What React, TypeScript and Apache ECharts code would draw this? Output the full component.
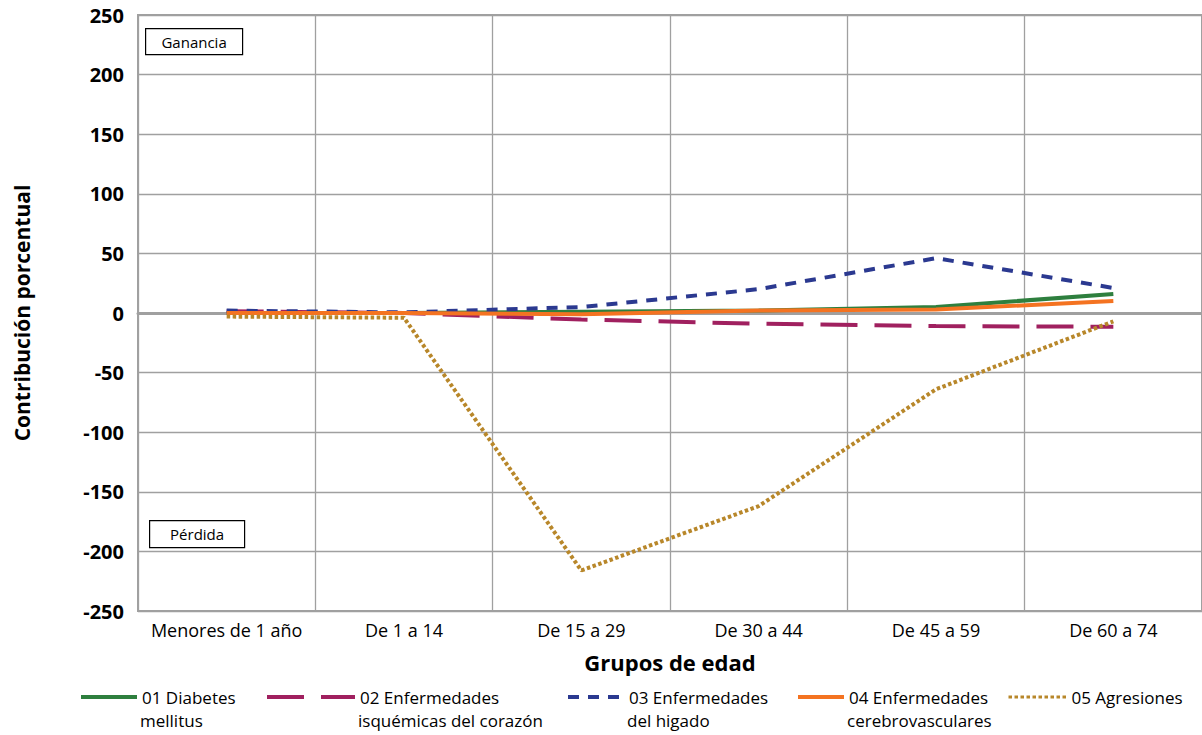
import React, { useEffect, useRef } from "react";
import * as echarts from "echarts";

const categories = ["Menores de 1 año", "De 1 a 14", "De 15 a 29", "De 30 a 44", "De 45 a 59", "De 60 a 74"];
const seriesNames = [
  "01 Diabetes\nmellitus",
  "02 Enfermedades\nisquémicas del corazón",
  "03 Enfermedades\ndel higado",
  "04 Enfermedades\ncerebrovasculares",
  "05 Agresiones",
];
const diabetes = [0, 0, 1, 2, 5, 16];
const isquemicas = [1.5, 0, -5.5, -9, -11, -11.5];
const higado = [2, 0.5, 5, 20, 46, 21];
const cerebro = [0, 0, -1, 2, 3, 10];
const agresiones = [-3, -4, -216, -162, -64, -7];
const yMin = -250;
const yMax = 250;
const yStep = 50;

const FONT = "'Open Sans', sans-serif";
const GRID = "#a0a0a0";

export default function App() {
  const ref = useRef<HTMLDivElement>(null);
  useEffect(() => {
    document.body.style.margin = "0";
    const chart = echarts.init(ref.current!, null, { renderer: "svg" });
    const styles = [
      { color: "#2E7F3E", width: 4, type: "solid" as any },
      { color: "#A0205F", width: 4, type: [37, 17] as any },
      { color: "#2B3990", width: 4, type: [11, 9] as any },
      { color: "#F47321", width: 4, type: "solid" as any },
      { color: "#B8872A", width: 4, type: [3.5, 2.5] as any },
    ];
    const datas = [diabetes, isquemicas, higado, cerebro, agresiones];
    const legendPos = [
      { left: 79, w: 56 },
      { left: 265, w: 88 },
      { left: 566, w: 56 },
      { left: 796, w: 46 },
      { left: 1007, w: 58 },
    ];
    const legendRowY = 697;
    const legendRow2Y = 720;
    const legends = seriesNames.map((n, i) => ({
      data: [n],
      left: legendPos[i].left,
      top: legendRowY - 11.5,
      padding: 0,
      itemWidth: legendPos[i].w,
      itemHeight: 10,
      selectedMode: false,
      formatter: (name: string) => name.split("\n")[0],
      itemStyle: { opacity: 0 },
      lineStyle: { width: i === 4 ? 3 : styles[i].width },
      textStyle: { fontFamily: FONT, fontSize: 17, color: "#000", lineHeight: 23 },
    }));
    const secondLines = seriesNames
      .map((n, i) => ({ n, i }))
      .filter((o) => o.n.includes("\n"))
      .map((o) => ({
        type: "text",
        x: legendPos[o.i].left + legendPos[o.i].w + 5,
        y: legendRow2Y,
        style: {
          text: o.n.split("\n")[1],
          fontSize: 17,
          fontFamily: FONT,
          fill: "#000",
          align: "left",
          verticalAlign: "middle",
        },
      }));
    chart.setOption({
      animation: false,
      textStyle: { fontFamily: FONT },
      grid: {
        left: 138,
        top: 15,
        width: 1070,
        height: 596,
        show: true,
        borderColor: GRID,
        borderWidth: 2,
        backgroundColor: "#fff",
      },
      legend: legends,
      xAxis: [
        {
          type: "category",
          data: categories,
          position: "bottom",
          axisLine: { show: false, onZero: false },
          axisTick: { show: false },
          axisLabel: { fontSize: 18, color: "#000", margin: 10, fontFamily: FONT, interval: 0 },
          splitLine: { show: true, interval: 0, lineStyle: { color: GRID, width: 1.3 } },
          name: "Grupos de edad",
          nameLocation: "middle",
          nameGap: 40,
          nameTextStyle: { fontSize: 22, fontWeight: "bold", color: "#000", fontFamily: FONT },
        },
        {
          type: "category",
          data: categories,
          position: "top",
          axisLine: { show: true, onZero: true, lineStyle: { color: GRID, width: 3 } },
          axisTick: { show: false },
          axisLabel: { show: false },
          splitLine: { show: false },
        },
      ],
      yAxis: {
        type: "value",
        min: yMin,
        max: yMax,
        interval: yStep,
        axisLine: { show: false },
        axisTick: { show: false },
        axisLabel: { fontSize: 20, fontWeight: "bold", color: "#000", margin: 14, fontFamily: FONT },
        splitLine: { show: true, lineStyle: { color: GRID, width: 1.3 } },
        name: "Contribución porcentual",
        nameLocation: "middle",
        nameRotate: 90,
        nameGap: 106,
        nameTextStyle: { fontSize: 21, fontWeight: "bold", color: "#000", fontFamily: FONT },
      },
      series: seriesNames.map((n, i) => ({
        name: n,
        type: "line",
        xAxisIndex: 0,
        data: datas[i],
        symbol: "none",
        showSymbol: false,
        color: styles[i].color,
        lineStyle: { color: styles[i].color, width: styles[i].width, type: styles[i].type, cap: "butt" },
        z: 3 + i,
      })),
      graphic: [
        {
          type: "group",
          left: 145,
          top: 28,
          children: [
            { type: "rect", shape: { x: 0, y: 0, width: 97, height: 26 }, style: { fill: "#fff", stroke: "#000", lineWidth: 1.2 } },
            { type: "text", x: 48.5, y: 13, style: { text: "Ganancia", fontSize: 15, fontFamily: FONT, fill: "#000", align: "center", verticalAlign: "middle" } },
          ],
        },
        {
          type: "group",
          left: 149,
          top: 520,
          children: [
            { type: "rect", shape: { x: 0, y: 0, width: 95, height: 27 }, style: { fill: "#fff", stroke: "#000", lineWidth: 1.2 } },
            { type: "text", x: 47.5, y: 13.5, style: { text: "Pérdida", fontSize: 15, fontFamily: FONT, fill: "#000", align: "center", verticalAlign: "middle" } },
          ],
        },
        ...secondLines,
      ],
    });
    return () => chart.dispose();
  }, []);
  return <div ref={ref} style={{ width: 1202, height: 735, background: "#fff" }} />;
}
